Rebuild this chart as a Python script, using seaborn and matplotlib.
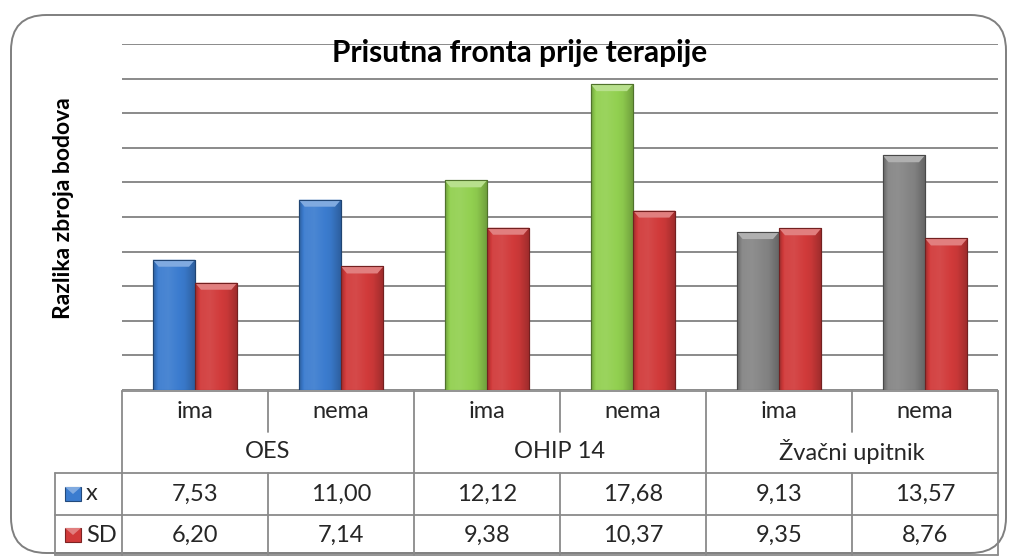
import numpy as np
import pandas as pd
import matplotlib
matplotlib.use("Agg")
import matplotlib.pyplot as plt
import matplotlib.colors as mcolors
from matplotlib.patches import FancyBboxPatch, Polygon, Rectangle
from matplotlib.transforms import blended_transform_factory
import seaborn as sns

# ---- data -------------------------------------------------------------
groups = ["OES", "OHIP 14", "Žvačni upitnik"]
subgroups = ["ima", "nema"]
series_names = ["x", "SD"]
mean_values = [7.53, 11.00, 12.12, 17.68, 9.13, 13.57]
sd_values = [6.20, 7.14, 9.38, 10.37, 9.35, 8.76]
title_text = "Prisutna fronta prije terapije"
ylabel_text = "Razlika zbroja bodova"

# ---- style ------------------------------------------------------------
group_colors = ["#3B7CCF", "#92D050", "#858585"]
sd_color = "#D13A3A"
line_gray = "#8A8A8A"

sns.set_theme(style="white")
plt.rcParams["font.family"] = ["Lato", "DejaVu Sans"]

W, H = 1013, 560
fig = plt.figure(figsize=(W / 100, H / 100), dpi=100)
fig.patch.set_facecolor("white")


def fx(px):
    return px / W


def fy(py):
    return 1 - py / H


# rounded chart frame
frame = FancyBboxPatch((fx(11), fy(553)), fx(1006) - fx(11), fy(15) - fy(553),
                       boxstyle="round,pad=0,rounding_size=0.035",
                       transform=fig.transFigure, facecolor="none",
                       edgecolor="#7F7F7F", linewidth=1.4, zorder=-1,
                       mutation_aspect=W / H)
fig.patches.append(frame)

ax = fig.add_axes([fx(122), fy(390), fx(998) - fx(122), fy(44) - fy(390)])
ax.set_facecolor("none")

cats = [f"{g} | {s}" for g in groups for s in subgroups]
df = pd.DataFrame({
    "category": cats * 2,
    "series": [series_names[0]] * len(cats) + [series_names[1]] * len(cats),
    "value": mean_values + sd_values,
})

sns.barplot(data=df, x="category", y="value", hue="series", order=cats,
            hue_order=series_names, width=0.58, dodge=True,
            palette=[group_colors[0], sd_color], saturation=1,
            legend=False, ax=ax, zorder=3)

ax.set_xlim(-0.5, len(cats) - 0.5)
ax.set_ylim(0, 20)
ax.set_yticks(np.arange(0, 21, 2))
ax.yaxis.grid(True, color=line_gray, linewidth=1.4)
ax.set_axisbelow(True)
ax.set_xticks([])
ax.set_yticklabels([])
ax.tick_params(left=False, bottom=False)
ax.set_xlabel("")
ax.set_ylabel("")
for s in ax.spines.values():
    s.set_visible(False)


def shade(c, f):
    r, g, b = mcolors.to_rgb(c)
    if f >= 0:
        return (r + (1 - r) * f, g + (1 - g) * f, b + (1 - b) * f)
    return (r * (1 + f), g * (1 + f), b * (1 + f))


# bevelled 3D look for every bar drawn by seaborn
units_per_px_x = 1 / 146.0
units_per_px_y = 20 / 346.0
dx = 6 * units_per_px_x
dy = 7 * units_per_px_y
grad_pos = np.array([0.0, 0.12, 0.35, 0.75, 1.0])
grad_f = np.array([-0.22, 0.05, 0.08, -0.04, -0.25])

for si, cont in enumerate(ax.containers):
    for ci, bar in enumerate(cont.patches):
        base = group_colors[ci // 2] if si == 0 else sd_color
        x0, w, h = bar.get_x(), bar.get_width(), bar.get_height()
        bar.set_facecolor(base)
        bar.set_edgecolor(shade(base, -0.4))
        bar.set_linewidth(0.8)
        xs = np.linspace(0, 1, 60)
        fvals = np.interp(xs, grad_pos, grad_f)
        img = np.array([[shade(base, f) for f in fvals]])
        im = ax.imshow(img, extent=(x0, x0 + w, 0, h), aspect="auto",
                       interpolation="bilinear", zorder=3.5)
        im.set_clip_path(bar)
        top = Polygon([(x0, h), (x0 + w, h), (x0 + w - dx, h - dy), (x0 + dx, h - dy)],
                      closed=True, facecolor=shade(base, 0.35),
                      edgecolor="none", zorder=4)
        ax.add_patch(top)
        outline = Rectangle((x0, 0), w, h, facecolor="none",
                            edgecolor=shade(base, -0.45), linewidth=0.8, zorder=4.5)
        ax.add_patch(outline)

# ---- titles -----------------------------------------------------------
fig.text(fx(520), fy(62), title_text, ha="center", va="baseline",
         fontsize=21.5, fontweight="bold", color="black")
fig.text(fx(63), fy(208), ylabel_text, ha="center", va="center",
         rotation=90, fontsize=16.5, fontweight="bold", color="black")

# ---- data table -------------------------------------------------------
bt = blended_transform_factory(ax.transData, fig.transFigure)
row_y = [391, 432, 473, 515, 555]
n = len(cats)
lw = 1.3


def hline(xa, xb, py, trans=bt):
    fig.add_artist(plt.Line2D([xa, xb], [fy(py), fy(py)], transform=trans,
                              color=line_gray, linewidth=lw))


def vline(xd, pa, pb, trans=bt):
    fig.add_artist(plt.Line2D([xd, xd], [fy(pa), fy(pb)], transform=trans,
                              color=line_gray, linewidth=lw))


hline(-0.5, n - 0.5, row_y[0])
for py in row_y[2:]:
    hline(-0.5, n - 0.5, py)
    fig.add_artist(plt.Line2D([fx(55), fx(122)], [fy(py), fy(py)],
                              transform=fig.transFigure, color=line_gray, linewidth=lw))
fig.add_artist(plt.Line2D([fx(55), fx(55)], [fy(row_y[2]), fy(row_y[4])],
                          transform=fig.transFigure, color=line_gray, linewidth=lw))

for gi in range(len(groups) + 1):
    vline(gi * 2 - 0.5, row_y[0], row_y[4])
for gi in range(len(groups)):
    xm = gi * 2 + 0.5
    vline(xm, row_y[0], row_y[1])
    vline(xm, row_y[2], row_y[4])

tfs = 17
for i, c in enumerate(cats):
    sub = c.split(" | ")[1]
    fig.text(i, fy(411), sub, transform=bt, ha="center", va="center", fontsize=tfs)
    fig.text(i, fy(494), f"{mean_values[i]:.2f}".replace(".", ","), transform=bt,
             ha="center", va="center", fontsize=tfs)
    fig.text(i, fy(535), f"{sd_values[i]:.2f}".replace(".", ","), transform=bt,
             ha="center", va="center", fontsize=tfs)
for gi, g in enumerate(groups):
    fig.text(gi * 2 + 0.5, fy(452), g, transform=bt, ha="center", va="center", fontsize=tfs)

# legend keys inside the table
for name, py, col in [(series_names[0], 494, group_colors[0]), (series_names[1], 535, sd_color)]:
    fig.patches.append(Rectangle((fx(65), fy(py + 7)), fx(81) - fx(65), fy(py - 7) - fy(py + 7),
                                 transform=fig.transFigure, facecolor=col,
                                 edgecolor=shade(col, -0.4), linewidth=0.8, zorder=5))
    fig.patches.append(Polygon([(fx(65), fy(py - 7)), (fx(81), fy(py - 7)), (fx(73), fy(py))],
                               closed=True, transform=fig.transFigure,
                               facecolor=shade(col, 0.35), edgecolor="none", zorder=6))
    fig.text(fx(86), fy(py), name, ha="left", va="center", fontsize=tfs)

fig.savefig("out.png", dpi=100)
